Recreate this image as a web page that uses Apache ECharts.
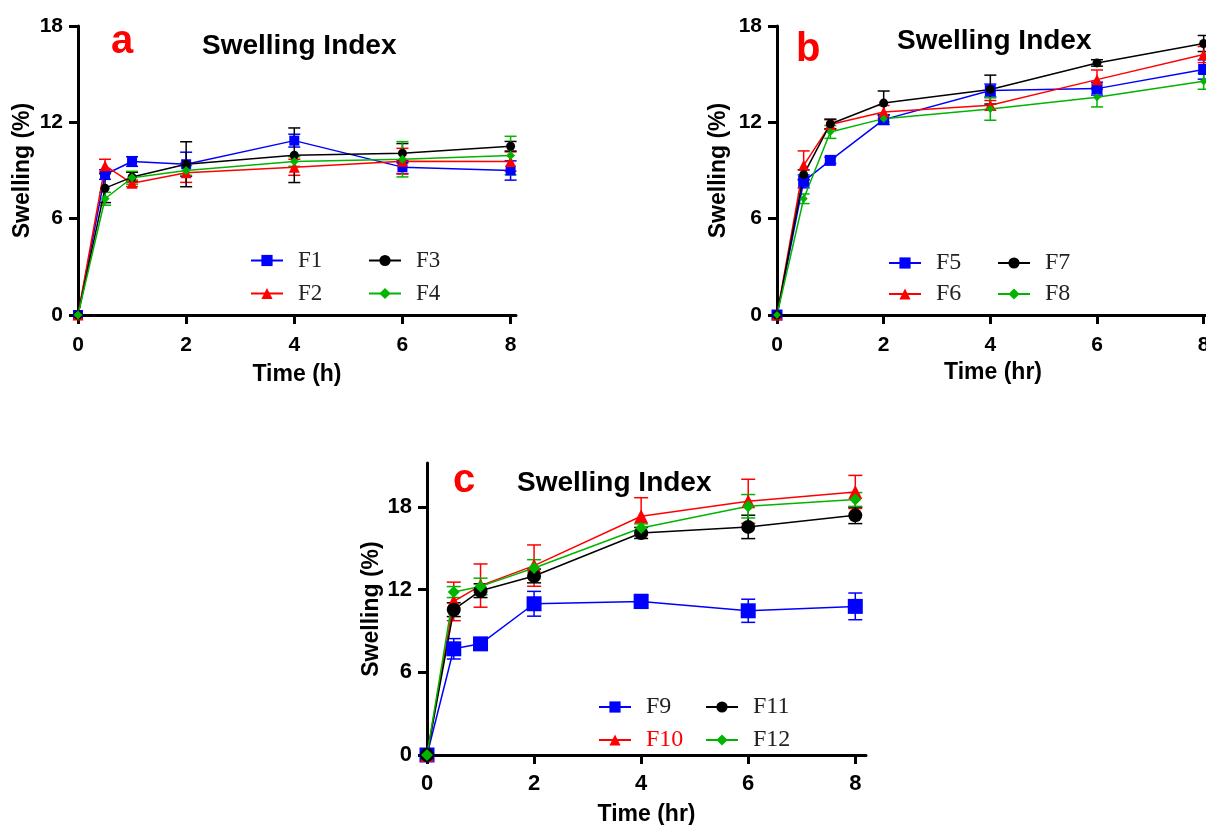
<!DOCTYPE html>
<html>
<head>
<meta charset="utf-8">
<script src="https://cdn.jsdelivr.net/npm/echarts@6/dist/echarts.min.js"></script>
<style>
  html, body { margin: 0; padding: 0; background: #fff; }
  #main { width: 1206px; height: 825px; }
</style>
</head>
<body>
<div id="main"></div>
<script>
// time points (h)
var time = [0, 0.5, 1, 2, 4, 6, 8];
var xTicks = [0, 2, 4, 6, 8];
var yTicks = [0, 6, 12, 18];

// panel a
var namesA = ['F1', 'F2', 'F3', 'F4'];
var F1 = [0, 8.75, 9.56, 9.39, 10.86, 9.21, 9.0];
var F2 = [0, 9.3, 8.2, 8.86, 9.2, 9.58, 9.56];
var F3 = [0, 7.9, 8.59, 9.39, 9.95, 10.08, 10.51];
var F4 = [0, 7.24, 8.55, 9.0, 9.56, 9.7, 9.93];
var errF1 = [0, 0.3, 0.3, 0.75, 0.4, 0.4, 0.6];
var errF2 = [0, 0.4, 0.2, 0.6, 0.5, 0.8, 0.6];
var errF3 = [0, 0.9, 0.3, 1.4, 1.7, 0.6, 0.3];
var errF4 = [0, 0.4, 0.4, 0.3, 0.3, 1.1, 1.2];

// panel b
var namesB = ['F5', 'F6', 'F7', 'F8'];
var F5 = [0, 8.32, 9.63, 12.17, 13.98, 14.1, 15.29];
var F6 = [0, 9.32, 11.86, 12.65, 13.06, 14.66, 16.22];
var F7 = [0, 8.74, 11.9, 13.2, 14.04, 15.7, 16.91];
var F8 = [0, 7.24, 11.4, 12.23, 12.83, 13.56, 14.56];
var errF5 = [0, 0.4, 0.2, 0.3, 0.4, 0.4, 0.6];
var errF6 = [0, 0.9, 0.3, 0.4, 0.3, 0.6, 0.5];
var errF7 = [0, 0.3, 0.3, 0.75, 0.9, 0.2, 0.5];
var errF8 = [0, 0.3, 0.4, 0.2, 0.7, 0.6, 0.5];

// panel c
var namesC = ['F9', 'F10', 'F11', 'F12'];
var F9 = [0, 7.71, 8.07, 10.98, 11.15, 10.47, 10.79];
var F10 = [0, 11.15, 12.3, 13.75, 17.33, 18.42, 19.1];
var F11 = [0, 10.55, 11.93, 13.0, 16.12, 16.56, 17.4];
var F12 = [0, 11.83, 12.24, 13.58, 16.48, 18.06, 18.55];
var errF9 = [0, 0.74, 0.3, 0.9, 0.5, 0.84, 0.97];
var errF10 = [0, 1.4, 1.57, 1.5, 1.35, 1.6, 1.2];
var errF11 = [0, 0.5, 0.5, 0.5, 0.4, 0.85, 0.6];
var errF12 = [0, 0.4, 0.6, 0.6, 0.3, 0.85, 0.5];

var colors = ['#0000ff', '#ff0000', '#000000', '#00b400'];
var symbols = ['rect', 'triangle', 'circle', 'diamond'];

var myChart = echarts.init(document.getElementById('main'));

var grids = [], xAxes = [], yAxes = [], series = [], legends = [];
var axisFont = 'Liberation Sans, Arial, sans-serif';

function addPanel(idx, cfg) {
    grids.push({
        left: cfg.left, top: cfg.top, width: cfg.width, height: cfg.height,
        containLabel: false, outerBoundsMode: 'none'
    });
    xAxes.push({
        gridIndex: idx, type: 'value', min: 0, max: cfg.xMax,
        name: cfg.xName, nameLocation: 'middle', nameGap: cfg.xGap,
        nameTextStyle: { fontSize: 23, fontWeight: 'bold', color: '#000', fontFamily: axisFont },
        axisLine: { lineStyle: { color: '#000', width: 3 } },
        axisTick: { length: 9, lineStyle: { width: 3, color: '#000' }, customValues: xTicks },
        axisLabel: { customValues: xTicks, fontSize: cfg.tickFont, fontWeight: 'bold', color: '#000', margin: cfg.xMargin, fontFamily: axisFont },
        splitLine: { show: false }
    });
    yAxes.push({
        gridIndex: idx, type: 'value', min: 0, max: cfg.yMax,
        name: 'Swelling (%)', nameLocation: 'middle', nameGap: cfg.yGap,
        nameTextStyle: { fontSize: 23, fontWeight: 'bold', color: '#000', fontFamily: axisFont },
        axisLine: { show: true, lineStyle: { color: '#000', width: 3 } },
        axisTick: { show: true, length: 9, lineStyle: { width: 3, color: '#000' }, customValues: yTicks },
        axisLabel: { customValues: yTicks, fontSize: cfg.tickFont, fontWeight: 'bold', color: '#000', margin: 15, fontFamily: axisFont },
        splitLine: { show: false }
    });
    cfg.names.forEach(function (nm, k) {
        var vals = cfg.values[k], errs = cfg.errs[k];
        series.push({
            name: nm, type: 'line', xAxisIndex: idx, yAxisIndex: idx,
            data: time.map(function (t, i) { return [t, vals[i]]; }),
            symbol: symbols[k], symbolSize: cfg.sizes[k],
            lineStyle: { color: colors[k], width: 1.5 },
            itemStyle: { color: colors[k] },
            z: 3, animation: false
        });
        var eb = [];
        time.forEach(function (t, i) {
            if (errs[i] > 0) eb.push([t, vals[i] - errs[i], vals[i] + errs[i]]);
        });
        series.push({
            type: 'custom', xAxisIndex: idx, yAxisIndex: idx, data: eb, silent: true, z: 2,
            renderItem: function (params, api) {
                var x = api.value(0);
                var lo = api.coord([x, api.value(1)]);
                var hi = api.coord([x, api.value(2)]);
                var w = cfg.cap;
                var st = { stroke: colors[k], lineWidth: 1.5 };
                return {
                    type: 'group', children: [
                        { type: 'line', shape: { x1: lo[0], y1: lo[1], x2: hi[0], y2: hi[1] }, style: st },
                        { type: 'line', shape: { x1: lo[0] - w, y1: lo[1], x2: lo[0] + w, y2: lo[1] }, style: st },
                        { type: 'line', shape: { x1: hi[0] - w, y1: hi[1], x2: hi[0] + w, y2: hi[1] }, style: st }
                    ]
                };
            }
        });
    });
    // two-column legend
    [[0, 1], [2, 3]].forEach(function (pair, c) {
        legends.push({
            orient: 'vertical', left: cfg.legLeft[c], top: cfg.legTop, padding: 0,
            itemWidth: 32, itemHeight: 14, itemGap: cfg.legGap,
            data: pair.map(function (k) {
                var nm = cfg.names[k];
                return nm === 'F10' ? { name: nm, textStyle: { color: '#ff0000' } } : nm;
            }),
            textStyle: { fontFamily: 'Liberation Serif, Times New Roman, serif', fontSize: cfg.legFont, color: '#222', padding: [0, 0, 0, 10] },
            selectedMode: false
        });
    });
}

addPanel(0, {
    left: 78, top: 26, width: 438, height: 289, xMax: 8.1, yMax: 18,
    xName: 'Time (h)', xGap: 48, yGap: 44, tickFont: 21, xMargin: 20,
    names: namesA, values: [F1, F2, F3, F4], errs: [errF1, errF2, errF3, errF4],
    sizes: [10, 11, 9, 9], cap: 6,
    legLeft: [250, 368], legTop: 249, legGap: 10, legFont: 23
});
addPanel(1, {
    left: 777, top: 26, width: 432, height: 289, xMax: 8.1, yMax: 18,
    xName: 'Time (hr)', xGap: 46, yGap: 47, tickFont: 21, xMargin: 20,
    names: namesB, values: [F5, F6, F7, F8], errs: [errF5, errF6, errF7, errF8],
    sizes: [11, 11, 9, 8], cap: 6,
    legLeft: [888, 997], legTop: 251, legGap: 7, legFont: 24
});
addPanel(2, {
    left: 427, top: 463, width: 439, height: 292, xMax: 8.2, yMax: 21.2,
    xName: 'Time (hr)', xGap: 48, yGap: 42, tickFont: 22, xMargin: 18,
    names: namesC, values: [F9, F10, F11, F12], errs: [errF9, errF10, errF11, errF12],
    sizes: [15, 14, 14, 12], cap: 7,
    legLeft: [598, 705], legTop: 695, legGap: 9, legFont: 24
});

function label(text, x, y, size, color) {
    return {
        type: 'text', left: x, top: y,
        style: { text: text, fontSize: size, fontWeight: 'bold', fill: color, fontFamily: axisFont }
    };
}

var option = {
    animation: false,
    backgroundColor: '#fff',
    grid: grids,
    xAxis: xAxes,
    yAxis: yAxes,
    legend: legends,
    series: series,
    graphic: [
        label('a', 111, 22, 40, '#ff0000'),
        label('Swelling Index', 202, 32, 28, '#000'),
        label('b', 796, 30, 40, '#ff0000'),
        label('Swelling Index', 897, 27, 28, '#000'),
        label('c', 453, 461, 40, '#ff0000'),
        label('Swelling Index', 517, 469, 28, '#000')
    ]
};
myChart.setOption(option);
</script>
</body>
</html>
